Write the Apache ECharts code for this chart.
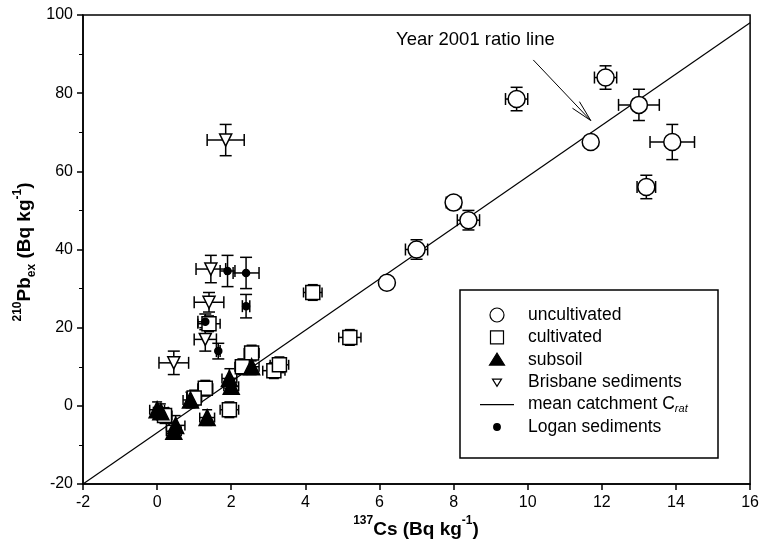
<!DOCTYPE html>
<html>
<head>
<meta charset="utf-8">
<script src="https://cdn.jsdelivr.net/npm/echarts@6/dist/echarts.min.js"></script>
<style>
  html, body { margin: 0; padding: 0; background: #fff; }
  #chart { width: 762px; height: 549px; }
</style>
</head>
<body>
<div id="chart"></div>
<script>
// values: [Cs137, Pb210ex, xErr, yErr]
const uncultivated = [
	[12.1, 84, 0.3, 3], [9.7, 78.5, 0.3, 3], [13.0, 77, 0.55, 4], [13.9, 67.5, 0.6, 4.5],
	[11.7, 67.5, 0.15, 1.5], [13.2, 56, 0.25, 3], [8.0, 52, 0.2, 1.5], [8.4, 47.5, 0.3, 2.5],
	[7.0, 40, 0.3, 2.5], [6.2, 31.5, 0.1, 0.5],
];
const cultivated = [
	[4.2, 29, 0.25, 2], [5.2, 17.5, 0.3, 2], [3.15, 9, 0.3, 2], [3.3, 10.5, 0.25, 2],
	[2.55, 13.5, 0.2, 2], [2.3, 10, 0.2, 2], [1.3, 4.5, 0.2, 2], [1.95, -1, 0.25, 2],
	[1.4, 21, 0.3, 2], [0.2, -2.5, 0.2, 2], [1.0, 2, 0.2, 2],
];
const subsoil = [
	[0, -1, 0.2, 2], [0.5, -5, 0.25, 2.5], [0.45, -6.5, 0.2, 2], [0.9, 1.5, 0.2, 2],
	[1.35, -3, 0.2, 2], [1.95, 7, 0.2, 2.5], [2.0, 5, 0.2, 2], [2.55, 10, 0.2, 2], [0.1, -1.5, 0.2, 2],
];
const brisbane = [
	[1.85, 68, 0.5, 4], [1.45, 35, 0.4, 3.5], [1.4, 26.5, 0.4, 2.5], [1.3, 17, 0.3, 3], [0.45, 11, 0.4, 3],
];
const logan = [
	[1.9, 34.5, 0.2, 4], [2.4, 34, 0.35, 4], [2.4, 25.5, 0.1, 3], [1.3, 21.5, 0.2, 2], [1.65, 14, 0.05, 2],
];
const ratioLine = [[-2, -20], [16, 98]];
const arrowLine = [[10.15, 88.5], [11.7, 73]];
const legendNames = ["uncultivated", "cultivated", "subsoil", "Brisbane sediments", "mean catchment C", "Logan sediments"];

const FONT = "Liberation Sans";

/* ── error bars drawn as a custom series ─────────────────── */
function errorBars(data, cap) {
	return {
		type: "custom",
		silent: true,
		z: 2,
		data: data,
		renderItem: (params, api) => {
			const x = api.value(0), y = api.value(1), dx = api.value(2), dy = api.value(3);
			const top = api.coord([x, y + dy]), bot = api.coord([x, y - dy]);
			const lft = api.coord([x - dx, y]), rgt = api.coord([x + dx, y]);
			const st = { stroke: "#000", lineWidth: 1.5 };
			const ln = (x1, y1, x2, y2) => ({ type: "line", shape: { x1, y1, x2, y2 }, style: st });
			return {
				type: "group",
				children: [
					ln(top[0], top[1], bot[0], bot[1]),
					ln(top[0] - cap, top[1], top[0] + cap, top[1]),
					ln(bot[0] - cap, bot[1], bot[0] + cap, bot[1]),
					ln(lft[0], lft[1], rgt[0], rgt[1]),
					ln(lft[0], lft[1] - cap, lft[0], lft[1] + cap),
					ln(rgt[0], rgt[1] - cap, rgt[0], rgt[1] + cap),
				],
			};
		},
	};
}

function scatter(name, data, symbol, size, fill, extra = {}) {
	return Object.assign({
		name,
		type: "scatter",
		z: 3,
		data: data.map(d => [d[0], d[1]]),
		symbol,
		symbolSize: size,
		itemStyle: { color: fill, borderColor: "#000", borderWidth: 1.5, opacity: 1 },
		emphasis: { disabled: true },
	}, extra);
}

/* ── hand-built legend box ───────────────────────────────── */
function buildLegend() {
	const box = { x: 460, y: 290, w: 258, h: 168 };
	const cx = 497, tx = 528, y0 = 315, gap = 22.4;
	const black = { fill: "#000", stroke: "#000", lineWidth: 1.2 };
	const hollow = { fill: "#fff", stroke: "#000", lineWidth: 1.2 };
	const tri = (y, r, down) => down
		? [[cx - r, y - r * 0.7], [cx + r, y - r * 0.7], [cx, y + r * 0.9]]
		: [[cx - r, y + r * 0.7], [cx + r, y + r * 0.7], [cx, y - r * 0.9]];
	const icons = [
		y => ({ type: "circle", shape: { cx, cy: y, r: 7 }, style: hollow }),
		y => ({ type: "rect", shape: { x: cx - 6.5, y: y - 6.5, width: 13, height: 13 }, style: hollow }),
		y => ({ type: "polygon", shape: { points: tri(y, 7.5, false) }, style: black }),
		y => ({ type: "polygon", shape: { points: tri(y, 4.5, true) }, style: hollow }),
		y => ({ type: "line", shape: { x1: cx - 17, y1: y, x2: cx + 17, y2: y }, style: { stroke: "#000", lineWidth: 1.2 } }),
		y => ({ type: "circle", shape: { cx, cy: y, r: 3.3 }, style: black }),
	];
	const els = [{
		type: "rect", z: 20, silent: true,
		shape: { x: box.x, y: box.y, width: box.w, height: box.h },
		style: { fill: "#fff", stroke: "#000", lineWidth: 1.5 },
	}];
	legendNames.forEach((n, i) => {
		const y = y0 + i * gap;
		els.push(Object.assign(icons[i](y), { z: 21, silent: true }));
		els.push({
			type: "text", z: 21, silent: true, x: tx, y: y,
			style: {
				text: n === "mean catchment C" ? "{a|mean catchment C}{s|rat}" : n,
				fontSize: 17.5, fontFamily: FONT, fill: "#000", verticalAlign: "middle",
				rich: {
					a: { fontSize: 17.5, fontFamily: FONT, lineHeight: 20, verticalAlign: "middle" },
					s: { fontSize: 11, fontStyle: "italic", fontFamily: FONT, lineHeight: 20, verticalAlign: "bottom" },
				},
			},
		});
	});
	return els;
}

const chart = echarts.init(document.getElementById("chart"), null, { renderer: "canvas" });

const axisCommon = {
	axisLine: { onZero: false, lineStyle: { color: "#000", width: 1.5 } },
	axisTick: { length: 6, lineStyle: { color: "#000", width: 1.5 } },
	axisLabel: { fontSize: 16, color: "#000", fontFamily: FONT },
	splitLine: { show: false },
};

chart.setOption({
	animation: false,
	backgroundColor: "#fff",
	textStyle: { fontFamily: FONT, color: "#000" },
	grid: { left: 83, right: 9, top: 15, bottom: 65, show: true, borderColor: "#000", borderWidth: 1.5 },
	xAxis: Object.assign({ type: "value", min: -2, max: 16, interval: 2 }, axisCommon,
		{ axisLabel: Object.assign({}, axisCommon.axisLabel, { margin: 11 }) }),
	yAxis: Object.assign({ type: "value", min: -20, max: 100, interval: 20 }, axisCommon, {
		minorTick: { show: true, splitNumber: 2, length: 4, lineStyle: { color: "#000" } },
		axisLabel: Object.assign({}, axisCommon.axisLabel, { margin: 10 }),
	}),
	graphic: [
		{
			type: "text", left: 396, top: 30, z: 10,
			style: { text: "Year 2001 ratio line", fontSize: 18.5, fontFamily: FONT, fill: "#000" },
		},
		{
			type: "text", x: 416, y: 527, z: 10,
			style: {
				text: "{sup|137}{b|Cs (Bq kg}{sup|-1}{b|)}",
				align: "center", verticalAlign: "middle",
				rich: {
					b: { fontSize: 19, fontWeight: "bold", fontFamily: FONT, lineHeight: 24, verticalAlign: "bottom" },
					sup: { fontSize: 12, fontWeight: "bold", fontFamily: FONT, lineHeight: 24, verticalAlign: "top" },
				},
			},
		},
		{
			type: "text", x: 25, y: 252, rotation: Math.PI / 2, z: 10,
			style: {
				text: "{sup|210}{b|Pb}{sub|ex}{b| (Bq kg}{sup|-1}{b|)}",
				align: "center", verticalAlign: "middle",
				rich: {
					b: { fontSize: 19, fontWeight: "bold", fontFamily: FONT, lineHeight: 26, verticalAlign: "middle" },
					sup: { fontSize: 12, fontWeight: "bold", fontFamily: FONT, lineHeight: 26, verticalAlign: "top" },
					sub: { fontSize: 12, fontWeight: "bold", fontFamily: FONT, lineHeight: 26, verticalAlign: "bottom" },
				},
			},
		},
	].concat(buildLegend()),
	series: [
		{
			name: "mean catchment C",
			type: "line",
			data: ratioLine,
			symbol: "none",
			z: 1,
			lineStyle: { color: "#000", width: 1.2 },
		},
		{
			// annotation arrow
			type: "custom",
			silent: true,
			z: 1,
			data: [arrowLine[0].concat(arrowLine[1])],
			renderItem: (params, api) => {
				const a = api.coord([api.value(0), api.value(1)]);
				const b = api.coord([api.value(2), api.value(3)]);
				const ang = Math.atan2(b[1] - a[1], b[0] - a[0]);
				const head = (off) => [b[0] - 22 * Math.cos(ang + off), b[1] - 22 * Math.sin(ang + off)];
				const h1 = head(0.22), h2 = head(-0.22);
				const st = { stroke: "#000", lineWidth: 1 };
				return {
					type: "group",
					children: [
						{ type: "line", shape: { x1: a[0], y1: a[1], x2: b[0], y2: b[1] }, style: st },
						{ type: "line", shape: { x1: h1[0], y1: h1[1], x2: b[0], y2: b[1] }, style: st },
						{ type: "line", shape: { x1: h2[0], y1: h2[1], x2: b[0], y2: b[1] }, style: st },
					],
				};
			},
		},
		errorBars(uncultivated, 6),
		errorBars(cultivated, 5),
		errorBars(subsoil, 5),
		errorBars(brisbane, 6),
		errorBars(logan, 6),
		scatter("uncultivated", uncultivated, "circle", 17, "#fff"),
		scatter("cultivated", cultivated, "rect", 14, "#fff"),
		scatter("subsoil", subsoil, "triangle", 16, "#000"),
		scatter("Brisbane sediments", brisbane, "triangle", 12, "#fff", { symbolRotate: 180 }),
		scatter("Logan sediments", logan, "circle", 7, "#000"),
	],
});
</script>
</body>
</html>
